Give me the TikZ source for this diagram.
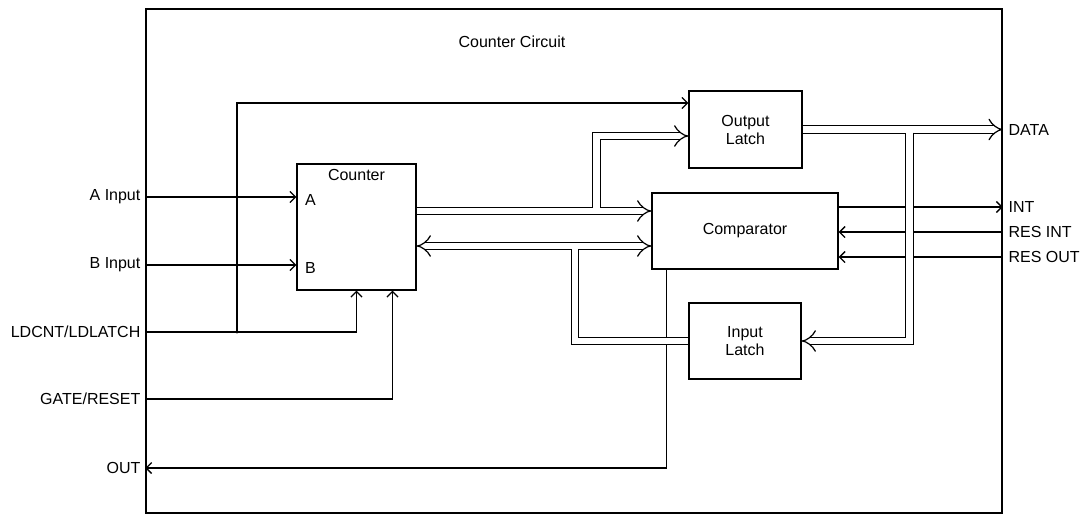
\documentclass[tikz,border=0pt]{standalone}
\usepackage{fontspec}
\setmainfont{Liberation Sans}
\usetikzlibrary{arrows.meta}

\begin{document}
\begin{tikzpicture}[
  x=1pt, y=-1pt,
  line width=1.3pt,
  font=\fontsize{16}{18}\selectfont,
  block/.style={draw, align=center, inner sep=0pt},
  lbl/.style={inner sep=2pt},
  sig/.style={-{Straight Barb[length=5.5pt,width=11pt]}},
  bus/.style={double, double distance=6.5pt, line width=1.2pt}
]
\useasboundingbox (0,0) rectangle (1084,516);
\node[draw, line width=1.5pt, minimum width=856pt, minimum height=504pt, inner sep=0pt] (frame) at (574,261) {};
\node (title) at (512,42) {Counter Circuit};

\node[block, minimum width=119pt, minimum height=126pt] (counter) at (356.5,227) {};
\node[anchor=north, inner sep=5pt] (cntname) at (counter.north) {Counter};
\node[block, minimum width=113pt, minimum height=77pt] (olatch) at (745.5,129.5) {Output\\Latch};
\node[block, minimum width=186pt, minimum height=76pt] (cmp) at (745,231) {Comparator};
\node[block, minimum width=112pt, minimum height=76pt] (ilatch) at (745,341) {Input\\Latch};

\node[lbl, anchor=east] (ain) at (143,197) {A Input};
\node[lbl, anchor=east] (bin) at (143,265) {B Input};
\node[lbl, anchor=east] (ld) at (143,332) {LDCNT/LDLATCH};
\node[lbl, anchor=east] (gate) at (143,399) {GATE/RESET};
\node[lbl, anchor=east] (out) at (143,468) {OUT};
\node[lbl, anchor=west, xshift=6pt, yshift=-3pt] (pina) at (counter.west |- ain) {A};
\node[lbl, anchor=west, xshift=6pt, yshift=-3pt] (pinb) at (counter.west |- bin) {B};

\node[lbl, anchor=west] (data) at (1006,129.5) {DATA};
\node[lbl, anchor=west] (int) at (1006,207) {INT};
\node[lbl, anchor=west] (resint) at (1006,232) {RES INT};
\node[lbl, anchor=west] (resout) at (1006,257) {RES OUT};

\coordinate (tap) at (237,332);
\coordinate (tapup) at (237,103);
\coordinate (busa) at (596.5,211);
\coordinate (busb) at (575,246);
\coordinate (busc) at (909.5,129.5);

\draw[sig] (ain.east -| frame.west) -- (ain.east -| counter.west);
\draw[sig] (bin.east -| frame.west) -- (bin.east -| counter.west);
\draw[sig] (ld.east -| frame.west) -| (counter.south);
\draw[sig] (tap) -- (tapup) -- (tapup -| olatch.west);
\fill (tap) circle (1.6pt);
\draw[sig] (gate.east -| frame.west) -| ([xshift=36pt]counter.south);
\draw[sig] ([xshift=15pt]cmp.south west) |- (out.east -| frame.west);
\draw[sig] (int.west -| cmp.east) -- (int.west -| frame.east);
\draw[sig] (resint.west -| frame.east) -- (resint.west -| cmp.east);
\draw[sig] (resout.west -| frame.east) -- (resout.west -| cmp.east);

\draw[bus, -Implies] (busa -| counter.east) -- (busa -| cmp.west);
\draw[bus, -Implies] ([yshift=3.25pt]busa) |- ([yshift=-6.5pt]olatch.west);
\draw[bus, Implies-Implies] (busb -| counter.east) -- (busb -| cmp.west);
\draw[bus] ([yshift=-3.25pt]busb) |- (ilatch.west);
\draw[bus, -Implies] (olatch.east) -- (olatch.east -| frame.east);
\draw[bus, -Implies] ([yshift=-3.25pt]busc) |- (ilatch.east);
\end{tikzpicture}
\end{document}
